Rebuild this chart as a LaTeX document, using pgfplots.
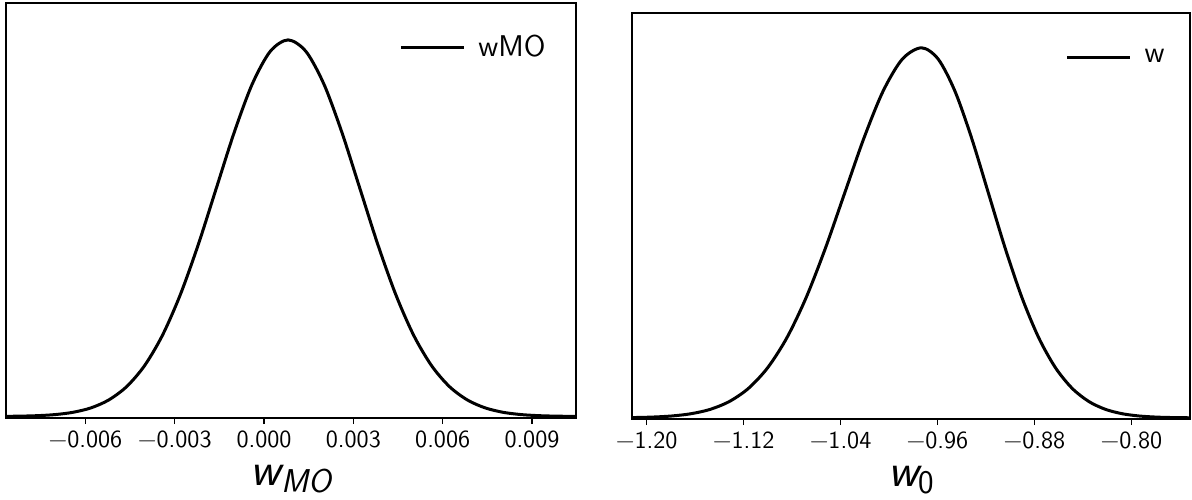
\documentclass[border=0pt]{standalone}
\usepackage{fontspec}
\renewcommand{\familydefault}{\sfdefault}
\usepackage{pgfplots}
\pgfplotsset{compat=1.18}
\begin{document}
\begin{tikzpicture}
\useasboundingbox (0pt,0pt) rectangle (596pt,249.5pt);
\pgfplotsset{
  every axis/.append style={
    scale only axis,
    axis line style={line width=0.6pt},
    ytick=\empty,
    xtick pos=bottom,
    tick align=outside,
    major tick length=3pt,
    every tick/.style={black,line width=0.6pt},
    scaled x ticks=false,
    xticklabel style={font=\fontsize{12.3}{14}\selectfont},
    xlabel style={inner sep=0pt,yshift=-5pt},
    legend style={draw=none,fill=none,font=\fontsize{15}{17}\selectfont,
      legend cell align=left},
    legend image code/.code={\draw[line width=1.5pt] (0pt,0pt) -- (31.5pt,0pt);
      \path (36pt,0pt);},
    clip=true,
  }
}
\begin{axis}[
  at={(3pt,40.5pt)}, anchor=south west,
  width=285pt, height=207.5pt,
  xmin=-0.00867, xmax=0.01048, ymin=-0.004, ymax=1.098,
  xtick={-0.006,-0.003,0,0.003,0.006,0.009},
  xticklabels={−0.006,−0.003,0.000,0.003,0.006,0.009},
  xlabel={\fontsize{23.6}{26}\selectfont\itshape w\raisebox{-3.5pt}{\fontsize{16.5}{18}\selectfont MO}},
  legend style={at={(1,1)},anchor=north east,xshift=-10pt,yshift=-12pt},
]
\addplot[black,line width=1.5pt,smooth] coordinates {
(-0.00883,0.00034) (-0.008228,0.00089) (-0.007626,0.00219) (-0.007023,0.00508)
(-0.006421,0.01111) (-0.005819,0.02279) (-0.005217,0.04394) (-0.004614,0.07956)
(-0.004012,0.13534) (-0.003410,0.21627) (-0.002808,0.32465) (-0.002205,0.45783)
(-0.001603,0.60653) (-0.001001,0.75484) (-0.000399,0.88250) (0.000204,0.96923)
(0.000806,1.00000) (0.001408,0.96923) (0.002011,0.88250) (0.002613,0.75484)
(0.003215,0.60653) (0.003817,0.45783) (0.004420,0.32465) (0.005022,0.21627)
(0.005624,0.13534) (0.006226,0.07956) (0.006829,0.04394) (0.007431,0.02279)
(0.008033,0.01111) (0.008635,0.00508) (0.009238,0.00219) (0.009840,0.00089)
(0.010442,0.00034) (0.011044,0.00012)
};
\addlegendentry{wMO}
\end{axis}
\begin{axis}[
  at={(316pt,40pt)}, anchor=south west,
  width=279pt, height=203pt,
  xmin=-1.2121, xmax=-0.7516, ymin=-0.003, ymax=1.094,
  xtick={-1.20,-1.12,-1.04,-0.96,-0.88,-0.80},
  xticklabels={−1.20,−1.12,−1.04,−0.96,−0.88,−0.80},
  xlabel={\fontsize{23.6}{26}\selectfont\itshape w\raisebox{-3.5pt}{\fontsize{16.5}{18}\selectfont\upshape 0}},
  legend style={at={(1,1)},anchor=north east,xshift=-7.5pt,yshift=-14pt},
]
\addplot[black,line width=1.5pt,smooth] coordinates {
(-1.2272,0.00034) (-1.211325,0.00089) (-1.19545,0.00219) (-1.179575,0.00508)
(-1.1637,0.01111) (-1.147825,0.02279) (-1.13195,0.04394) (-1.116075,0.07956)
(-1.1002,0.13534) (-1.084325,0.21627) (-1.06845,0.32465) (-1.052575,0.45783)
(-1.0367,0.60653) (-1.020825,0.75484) (-1.00495,0.88250) (-0.989075,0.96923)
(-0.9732,1.00000) (-0.959375,0.96923) (-0.94555,0.88250) (-0.931725,0.75484)
(-0.9179,0.60653) (-0.904075,0.45783) (-0.89025,0.32465) (-0.876425,0.21627)
(-0.8626,0.13534) (-0.848775,0.07956) (-0.83495,0.04394) (-0.821125,0.02279)
(-0.8073,0.01111) (-0.793475,0.00508) (-0.77965,0.00219) (-0.765825,0.00089)
(-0.752,0.00034) (-0.738175,0.00012)
};
\addlegendentry{w}
\end{axis}
\end{tikzpicture}
\end{document}
